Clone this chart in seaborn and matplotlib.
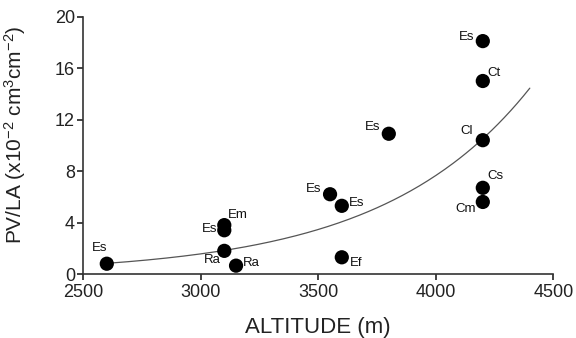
import numpy as np
import pandas as pd
import matplotlib
matplotlib.use("Agg")
import matplotlib.pyplot as plt
import seaborn as sns

# ---- data ----
altitude = [2600, 3100, 3150, 3100, 3100, 3550, 3600, 3600, 3800, 4200, 4200, 4200, 4200, 4200]
pv_la = [0.8, 1.8, 0.65, 3.4, 3.8, 6.2, 5.3, 1.3, 10.9, 18.1, 15.0, 10.4, 6.7, 5.6]
species = ["Es", "Ra", "Ra", "Es", "Em", "Es", "Es", "Ef", "Es", "Es", "Ct", "Cl", "Cs", "Cm"]

# exponential trend (y = a * exp(b * (x - x0))), coefficients
trend_a = 0.83
trend_b = 0.001587
trend_x0 = 2600
trend_range = [2600, 4400]

x_ticks = [2500, 3000, 3500, 4000, 4500]
y_ticks = [0, 4, 8, 12, 16, 20]

# label offsets in pixels (dx, dy) relative to each point
label_offsets = [(-7, 16), (-12, -9), (15, 3), (-15, 1), (14, 10), (-16, 5), (15, 3),
                 (14, -6), (-16, 7), (-16, 4), (11, 8), (-16, 9), (13, 12), (-17, -7)]

df = pd.DataFrame({"altitude": altitude, "pv_la": pv_la, "species": species})

sns.set_style("ticks")
plt.rcParams["font.family"] = ["Liberation Sans", "DejaVu Sans"]
plt.rcParams["mathtext.fontset"] = "custom"
plt.rcParams["mathtext.rm"] = "Liberation Sans"
plt.rcParams["mathtext.it"] = "Liberation Sans:italic"
plt.rcParams["mathtext.bf"] = "Liberation Sans:bold"

fig = plt.figure(figsize=(5.76, 3.38), dpi=100)
ax = fig.add_axes([0.1446, 0.1893, 0.816, 0.7614])

xc = np.linspace(trend_range[0], trend_range[1], 200)
yc = trend_a * np.exp(trend_b * (xc - trend_x0))
sns.lineplot(x=xc, y=yc, ax=ax, color="#555555", linewidth=0.9)

sns.scatterplot(data=df, x="altitude", y="pv_la", ax=ax, color="black", s=105,
                edgecolor="none", zorder=3)

for (xv, yv, lab), (dx, dy) in zip(zip(altitude, pv_la, species), label_offsets):
    ax.annotate(lab, (xv, yv), xytext=(dx, dy), textcoords="offset pixels",
                ha="center", va="center", fontsize=9.5, color="#111111")

ax.set_xlim(2500, 4500)
ax.set_ylim(0, 20)
ax.set_xticks(x_ticks)
ax.set_yticks(y_ticks)
ax.tick_params(axis="both", labelsize=13, direction="out", length=4, width=1.2,
               colors="#222222")
ax.tick_params(axis="x", pad=3)
ax.tick_params(axis="y", pad=2)
for side in ["left", "bottom"]:
    ax.spines[side].set_linewidth(1.2)
    ax.spines[side].set_color("#333333")
sns.despine(ax=ax)

ax.set_xlabel("ALTITUDE (m)", fontsize=16, color="#222222", labelpad=12)
ax.set_ylabel(r"PV/LA (x10$^{-2}$ cm$^{3}$cm$^{-2}$)", fontsize=15, color="#222222")
ax.yaxis.set_label_coords(-0.118, 0.54)

fig.savefig("out.png", dpi=100)
